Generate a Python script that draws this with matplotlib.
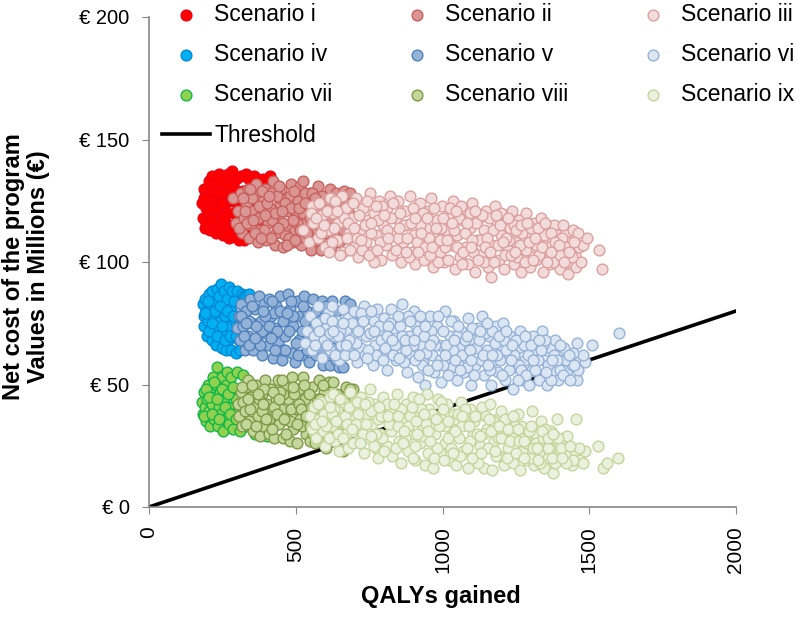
import numpy as np
import matplotlib
matplotlib.use("Agg")
import matplotlib.pyplot as plt

plt.rcParams['font.family'] = ['Liberation Sans', 'DejaVu Sans']

# values: (QALYs gained, net cost in M EUR)
scen_i = [(180,124),(184,118),(186,130),(190,114),(193,122),(197,127),(200,118),(203,133),(207,113),(210,124),(213,129),(216,135),(219,116),(222,120),(225,126),(228,112),(231,132),(234,117),(238,123),(240,136),(243,113),(246,128),(249,119),(252,111),(255,133),(258,124),(261,115),(264,129),(267,120),(270,136),(273,110),(276,125),(279,115),(283,137),(286,131),(289,120),(292,111),(295,127),(298,134),(301,116),(304,122),(308,109),(312,135),(316,112),(320,129),(325,109),(330,136),(336,119),(342,134),(350,112),(358,135),(365,125),(372,134),(380,115),(390,134),(398,128),(405,133),(412,135),
 (188,126),(195,116),(205,121),(212,117),(221,131),(229,122),(236,128),(244,133),(250,124),(257,118),(265,112),(272,131),(280,127),(291,115),(300,129)]

scen_ii = [(285,126),(298,116),(304,121),(312,128),(318,112),(324,118),(330,124),(336,130),(342,110),(348,115),(353,121),(359,127),(365,132),(371,108),(377,113),(383,119),(388,125),(394,130),(400,109),(405,116),(411,122),(417,128),(422,133),(428,107),(434,112),(440,118),(445,124),(451,130),(456,106),(462,111),(468,115),(473,121),(479,127),(485,132),(490,108),(496,113),(501,119),(507,125),(513,131),(518,107),(524,133),(530,110),(535,116),(541,122),(547,128),(552,105),(558,112),(564,118),(569,124),(575,131),(581,108),(586,105),(592,114),(598,120),(603,127),(609,110),(615,130),(620,106),(626,116),(632,122),(637,128),(643,112),(649,108),(654,118),(660,125),(666,129),(671,110),(677,121),(685,128),(350,126),(392,113),(420,117),(448,126),(476,110),(505,116),(530,128),(560,121),(590,127),(620,118),(650,114),(375,123),(435,127),(465,124),(495,129),(525,120),(555,128),(610,124),
 (308,114),(320,126),(334,116),(345,130),(360,112),(372,118),(386,129),(402,124),(415,110),(428,120),(442,131),(458,116),(470,107),(484,122),(498,109),(512,122),(540,112),(548,118),(572,110),(584,122),(600,112),(636,110),(668,118),
 (326,121),(356,117),(380,110),(396,119),(410,127),(438,114),(454,121),(490,117),(516,113),(532,124),(566,126),(580,115),(628,112),(645,125),(662,113)]

scen_iii = [(525,113),(545,108),(555,123),(552,120),(560,116),(575,110),(580,124),(590,119),(600,106),(610,113),(617,126),(628,120),(640,109),(645,116),(657,127),(662,104),(670,122),(681,112),(690,118),(697,106),(705,126),(712,102),(720,113),(730,122),(738,108),(745,117),(752,128),(760,104),(768,120),(775,111),(783,125),(790,101),(798,115),(806,107),(812,122),(820,127),(828,103),(836,112),(843,118),(850,125),(858,100),(865,108),(872,121),(880,115),(888,127),(895,104),(902,111),(908,99),(915,118),(922,124),(930,107),(938,101),(945,114),(952,121),(961,126),(968,98),(975,110),(982,117),(990,104),(998,123),(1005,100),(1012,113),(1020,119),(1028,107),(1035,125),(1042,97),(1050,111),(1058,102),(1065,117),(1072,122),(1080,106),(1088,99),(1095,114),(1102,124),(1110,96),(1118,109),(1125,118),(1132,103),(1140,113),(1148,121),(1155,98),(1165,94),(1170,107),(1179,123),(1185,116),(1192,101),(1200,111),(1208,97),(1215,119),(1222,105),(1230,114),(1238,121),(1245,99),(1252,108),(1260,117),(1268,96),(1275,103),(1284,120),(1290,112),(1297,98),(1305,106),(1312,116),(1320,101),(1328,110),(1335,118),(1342,96),(1350,105),(1358,113),(1365,99),(1372,108),(1380,115),(1388,102),(1395,111),(1402,97),(1410,105),(1418,112),(1425,100),(1428,95),(1436,108),(1445,113),(1450,103),(1456,98),(1465,106),(1471,100),(1480,107),(1492,110),(1533,105),(1543,97),
 (585,112),(605,121),(625,108),(635,125),(650,103),(675,110),(695,124),(715,119),(725,105),(742,125),(755,112),(765,100),(780,117),(795,123),(810,113),(825,118),(840,105),(855,120),(868,115),(885,102),(898,122),(912,108),(925,115),(942,106),(955,110),(972,122),(985,100),(995,114),(1010,106),(1025,122),(1038,113),(1055,118),(1068,99),(1078,112),(1092,120),(1105,104),(1115,116),(1128,109),(1142,100),(1158,118),(1172,113),(1188,107),(1198,120),(1212,103),(1228,109),(1242,115),(1255,102),(1272,112),(1286,105),(1302,114),(1318,107),(1330,103),(1345,111),(1362,106),(1378,100),(1392,106),(1408,110),(1422,106),(1440,102),(1462,112),
 (568,118),(612,104),(632,114),(665,118),(684,105),(708,110),(735,115),(748,103),(772,123),(788,108),(802,119),(832,124),(848,110),(875,104),(892,116),(918,104),(935,120),(958,103),(978,114),(1002,118),(1018,101),(1032,116),(1048,106),(1062,123),(1085,116),(1100,109),(1122,101),(1136,119),(1152,110),(1175,100),(1195,115),(1218,110),(1235,103),(1250,113),(1265,107),(1280,100),(1295,108),(1310,101),(1325,114),(1340,106),(1355,100),(1370,112),(1385,108),(1400,103),(1415,100),(1432,104),
 (595,115),(642,121),(678,116),(700,114),(722,109),(758,116),(778,105),(815,110),(852,114),(878,110),(905,118),(928,112),(948,118),(965,106),(992,109),(1015,109),(1045,121),(1070,104),(1098,106),(1112,121),(1145,106),(1162,104),(1182,119),(1205,108),(1224,118),(1248,104),(1268,115),(1288,116),(1315,110),(1348,116),(1368,104),(1398,107),(1412,115),(1448,108)]

scen_iv = [(184,83),(187,78),(189,74),(192,85),(195,80),(198,70),(201,76),(204,87),(207,82),(210,72),(213,88),(216,68),(219,78),(222,84),(225,74),(228,66),(231,89),(234,80),(237,70),(240,86),(243,76),(245,91),(248,65),(251,82),(254,72),(257,88),(260,78),(263,64),(266,85),(269,68),(272,90),(275,74),(278,80),(281,64),(284,88),(287,70),(290,84),(293,76),(297,63),(301,88),(305,68),(310,64),(316,87),(324,86),(332,86),(342,87),
 (191,79),(200,84),(206,72),(215,75),(224,80),(232,70),(241,82),(249,74),(258,68),(267,80),(276,70),(285,78),(295,70)]

scen_v = [(300,73),(305,78),(310,68),(315,83),(320,74),(326,64),(332,80),(338,70),(344,85),(350,75),(356,64),(362,81),(368,69),(374,86),(380,76),(386,62),(392,83),(398,71),(404,66),(410,85),(416,78),(422,61),(428,73),(434,82),(440,67),(446,86),(452,60),(458,76),(464,70),(474,87),(480,81),(486,63),(492,74),(498,59),(504,84),(510,68),(516,78),(522,62),(528,86),(534,71),(540,80),(546,59),(552,66),(558,85),(564,75),(570,62),(576,81),(582,68),(588,84),(594,58),(600,74),(606,63),(612,78),(618,58),(624,84),(630,69),(636,60),(642,80),(648,57),(654,72),(661,57),(668,84),(676,64),(685,83),(700,76),(340,76),(385,72),(425,79),(455,64),(485,84),(520,72),(555,77),(585,74),(610,70),(640,66),
 (312,78),(325,70),(340,66),(352,82),(366,74),(378,66),(395,78),(408,74),(420,84),(437,72),(448,80),(462,64),(476,72),(490,78),(508,62),(524,82),(538,64),(552,72),(568,80),(590,64),(604,82),(622,65),(644,74),(660,64),
 (330,75),(360,69),(388,80),(414,69),(430,64),(470,79),(500,67),(530,76),(575,70),(598,78),(635,76),(650,62),(670,72),(682,68)]

scen_vi = [(531,67),(540,72),(550,78),(556,64),(562,70),(570,75),(575,82),(589,61),(595,68),(603,73),(610,79),(618,64),(625,82),(632,70),(640,76),(648,60),(655,66),(662,81),(670,72),(678,77),(685,63),(692,69),(700,80),(708,59),(716,74),(724,65),(732,82),(740,70),(748,77),(756,60),(763,58),(770,66),(778,81),(786,72),(794,62),(802,77),(810,56),(818,68),(826,81),(834,73),(842,60),(850,65),(862,83),(870,77),(878,55),(886,70),(894,62),(902,80),(910,74),(918,53),(926,66),(934,59),(940,50),(948,70),(956,78),(964,62),(972,55),(980,74),(988,66),(996,51),(1009,80),(1016,60),(1024,70),(1032,57),(1040,76),(1048,52),(1056,65),(1064,72),(1072,55),(1080,61),(1088,77),(1096,50),(1104,68),(1112,58),(1120,73),(1134,78),(1142,54),(1150,64),(1158,70),(1166,50),(1174,60),(1182,74),(1190,55),(1198,66),(1206,75),(1214,52),(1222,62),(1230,70),(1240,48),(1248,57),(1256,65),(1264,72),(1272,52),(1280,60),(1288,68),(1296,50),(1304,56),(1312,64),(1320,69),(1339,72),(1330,52),(1345,60),(1356,50),(1365,65),(1375,55),(1385,68),(1395,52),(1405,60),(1415,65),(1425,56),(1440,58),(1458,67),(1458,52),(1470,60),(1485,59),(1478,62),(1509,66),(1601,71),
 (600,77),(615,71),(635,62),(650,72),(668,62),(690,75),(705,67),(722,79),(735,62),(752,71),(765,76),(775,62),(790,68),(805,65),(822,75),(838,66),(855,74),(868,59),(882,78),(898,66),(915,72),(930,58),(945,63),(960,72),(975,66),(990,60),(1003,72),(1020,54),(1035,64),(1050,70),(1068,62),(1085,57),(1100,73),(1115,65),(1130,60),(1146,71),(1162,56),(1178,67),(1195,60),(1210,68),(1226,56),(1244,62),(1260,58),(1276,66),(1292,62),(1308,70),(1326,60),(1342,66),(1360,58),(1380,62),(1400,56),(1420,60),(1445,63),(1462,56),
 (580,72),(622,76),(645,70),(660,75),(680,68),(712,72),(728,76),(745,64),(758,80),(782,74),(798,60),(815,74),(832,62),(848,78),(862,70),(875,64),(890,76),(908,60),(922,78),(938,70),(952,56),(968,68),(985,78),(1000,58),(1012,66),(1028,76),(1044,60),(1060,56),(1076,68),(1092,64),(1108,54),(1124,68),(1138,62),(1154,58),(1170,72),(1186,62),(1202,54),(1218,64),(1234,60),(1252,68),(1268,56),(1284,54),(1300,66),(1316,56),(1334,64),(1350,68),(1370,52),(1390,60),(1410,54),(1435,52),
 (565,66),(608,66),(628,72),(672,66),(698,62),(742,61),(768,72),(812,70),(828,68),(852,61),(872,68),(904,68),(920,62),(942,74),(958,66),(980,58),(1008,62),(1038,68),(1054,74),(1082,70),(1098,60),(1128,72),(1152,75),(1168,62),(1192,70),(1216,72),(1238,66),(1258,52),(1282,70),(1310,60),(1328,68),(1352,55),(1372,60),(1402,66),(1432,62),(1448,58)]

scen_vii = [(180,43),(183,38),(186,47),(190,41),(193,35),(197,44),(200,50),(203,39),(207,33),(210,47),(213,42),(217,53),(220,36),(224,45),(227,50),(231,57),(234,33),(238,41),(241,47),(245,38),(248,53),(252,31),(255,44),(259,36),(262,50),(266,55),(270,41),(273,34),(277,47),(281,53),(286,32),(290,38),(295,44),(300,55),(310,31),(320,54),(335,33),(360,30),(385,30),(401,29),
 (188,37),(195,48),(205,45),(215,38),(222,51),(232,44),(240,36),(250,48),(258,41),(268,46),(276,38),(285,49),(298,36)]

scen_viii = [(304,42),(308,37),(312,47),(316,33),(320,43),(326,39),(332,49),(337,52),(342,35),(348,45),(354,31),(360,41),(366,50),(372,37),(378,29),(384,46),(390,33),(396,52),(402,42),(408,30),(414,48),(420,37),(426,28),(432,44),(438,52),(444,34),(450,40),(456,28),(462,49),(468,36),(474,44),(480,27),(486,53),(492,32),(498,40),(504,26),(510,48),(516,36),(525,53),(530,44),(536,30),(542,39),(548,27),(554,49),(560,34),(566,26),(572,44),(578,52),(584,38),(590,29),(596,47),(602,24),(608,35),(614,51),(620,42),(627,51),(633,32),(640,46),(650,38),(661,23),(670,49),(680,44),(695,48),(345,40),(385,39),(425,41),(455,46),(495,46),(520,33),(565,40),(600,40),(375,44),(410,36),(445,47),(480,35),
 (318,49),(330,34),(352,50),(365,33),(392,48),(400,36),(418,32),(436,38),(452,52),(468,30),(484,40),(505,34),(512,42),(528,50),(545,46),(558,30),(575,34),(592,50),(612,42),(630,38),(645,30),(660,44),
 (336,44),(370,46),(388,42),(424,47),(442,44),(460,36),(490,49),(518,40),(534,37),(550,33),(582,44),(606,30),(625,45),(655,34),(685,48)]

scen_ix = [(549,37),(556,32),(562,41),(570,28),(578,36),(586,43),(592,31),(600,25),(607,38),(615,45),(622,33),(627,46),(633,27),(640,40),(648,23),(655,36),(662,43),(670,30),(678,24),(685,47),(692,36),(700,41),(708,27),(716,32),(724,45),(732,22),(740,38),(748,28),(753,48),(760,34),(768,42),(775,24),(780,20),(788,30),(796,45),(804,37),(812,25),(820,40),(828,21),(836,33),(844,46),(852,27),(860,18),(868,36),(876,42),(884,23),(892,30),(900,45),(908,19),(916,38),(924,26),(932,33),(947,46),(940,17),(955,40),(967,16),(975,30),(983,44),(991,22),(999,36),(1007,26),(1015,42),(1023,19),(1031,32),(1039,38),(1047,17),(1055,28),(1063,43),(1071,23),(1079,35),(1087,16),(1095,40),(1103,30),(1111,20),(1119,37),(1127,25),(1135,41),(1143,16),(1151,32),(1162,42),(1168,15),(1176,27),(1184,36),(1192,21),(1200,39),(1208,17),(1216,30),(1224,24),(1232,35),(1240,18),(1248,28),(1256,38),(1264,15),(1272,23),(1280,32),(1288,19),(1296,26),(1305,39),(1312,17),(1320,30),(1328,22),(1336,35),(1345,16),(1352,26),(1360,20),(1368,31),(1376,14),(1385,24),(1390,36),(1400,19),(1412,28),(1425,22),(1440,17),(1450,23),(1455,36),(1470,19),(1485,23),(1480,18),(1530,25),(1547,16),(1560,18),(1598,20),
 (575,42),(595,38),(612,28),(630,40),(645,30),(668,37),(682,41),(695,26),(712,38),(728,30),(745,43),(765,25),(780,36),(795,28),(810,42),(825,31),(842,24),(858,40),(872,28),(890,37),(905,25),(920,44),(935,29),(950,22),(965,38),(980,24),(995,43),(1010,33),(1028,24),(1045,36),(1060,21),(1075,40),(1092,27),(1108,35),(1122,18),(1138,30),(1155,24),(1172,35),(1188,28),(1205,33),(1220,20),(1236,28),(1252,22),(1268,33),(1285,26),(1300,20),(1318,26),(1332,18),(1350,32),(1365,24),(1382,18),(1405,24),(1425,29),(1445,19),(1465,24),
 (566,34),(604,33),(624,38),(652,44),(674,34),(704,34),(720,26),(738,34),(755,39),(772,30),(790,37),(802,23),(818,34),(834,42),(850,33),(866,26),(882,33),(898,20),(912,30),(928,40),(944,34),(958,27),(972,20),(988,33),(1004,19),(1020,28),(1036,22),(1052,38),(1068,33),(1084,24),(1100,20),(1116,30),(1132,22),(1148,37),(1166,31),(1182,21),(1198,28),(1214,36),(1230,27),(1246,33),(1262,27),(1278,20),(1294,31),(1310,24),(1326,19),(1342,28),(1358,24),(1374,20),(1394,28),(1420,18),
 (590,35),(618,41),(638,35),(660,28),(690,32),(710,43),(735,42),(758,29),(785,41),(815,37),(848,37),(870,31),(895,41),(910,35),(938,38),(952,31),(978,36),(1002,40),(1018,35),(1042,31),(1066,37),(1090,33),(1112,37),(1128,29),(1158,36),(1178,23),(1194,33),(1222,32),(1240,37),(1258,32),(1276,27),(1302,33),(1322,24),(1340,31),(1360,28),(1378,30),(1408,20),(1435,25)]

threshold_x = [0, 2000]
threshold_y = [0, 80]

labels = ["Scenario i", "Scenario ii", "Scenario iii", "Scenario iv", "Scenario v", "Scenario vi",
          "Scenario vii", "Scenario viii", "Scenario ix"]
fills = ["#FF0000", "#D99694", "#F2DCDB", "#00B0F0", "#95B3D7", "#DCE6F2", "#92D050", "#C3D69B", "#EBF1DE"]
edges = ["#F00010", "#C9605C", "#DCA09E", "#0088D8", "#4F81BD", "#95B3D7", "#10B848", "#7F9A45", "#C3D69B"]
series = [scen_i, scen_ii, scen_iii, scen_iv, scen_v, scen_vi, scen_vii, scen_viii, scen_ix]

fig = plt.figure(figsize=(8, 6.17), dpi=100)
ax = fig.add_axes([149/800, 1 - 507/617, 587/800, 490/617])

line, = ax.plot(threshold_x, threshold_y, color="black", lw=2.6, zorder=1, label="Threshold")

handles = {}
for i, (pts, lab) in enumerate(zip(series, labels)):
    x, y = np.array(pts).T
    handles[lab] = ax.scatter(x, y, s=60, c=fills[i], edgecolors=edges[i], linewidths=1.0,
                              zorder=2 + i, label=lab)

ax.set_xlim(0, 2000)
ax.set_ylim(0, 200)
ax.set_xticks([0, 500, 1000, 1500, 2000])
ax.set_yticks([0, 50, 100, 150, 200])
ax.set_yticklabels(["€ 0", "€ 50", "€ 100", "€ 150", "€ 200"])
ax.tick_params(axis="y", labelsize=14.5, length=5, color="#868686", pad=9)
ax.tick_params(axis="x", labelsize=15, length=5, color="#868686", pad=9, labelrotation=90)
for s in ["top", "right"]:
    ax.spines[s].set_visible(False)
for s in ["left", "bottom"]:
    ax.spines[s].set_color("#868686")
    ax.spines[s].set_linewidth(1.2)

ax.set_xlabel("QALYs gained", fontsize=17, fontweight="bold")
ax.xaxis.set_label_coords(0.497, -0.160)
ax.set_ylabel("Net cost of the program\nValues in Millions (€)", fontsize=17, fontweight="bold", linespacing=1.12)
ax.yaxis.set_label_coords(-0.168, 0.49)

# column order so Threshold ends up under the first column
order = ["Scenario i", "Scenario iv", "Scenario vii", None, "Scenario ii", "Scenario v",
         "Scenario viii", "Scenario iii", "Scenario vi", "Scenario ix"]
leg_h = [line if o is None else handles[o] for o in order]
leg_l = ["Threshold" if o is None else o for o in order]
leg = ax.legend(leg_h, leg_l, ncol=3, frameon=False, fontsize=16.5, handlelength=2.1,
                handletextpad=0.17, columnspacing=2.65, labelspacing=0.75, borderpad=0, borderaxespad=0,
                scatterpoints=1, loc="upper left", bbox_to_anchor=(162/800, 1 - 3/617),
                bbox_transform=fig.transFigure)
leg.set_zorder(20)

fig.savefig("out.png", dpi=100)
